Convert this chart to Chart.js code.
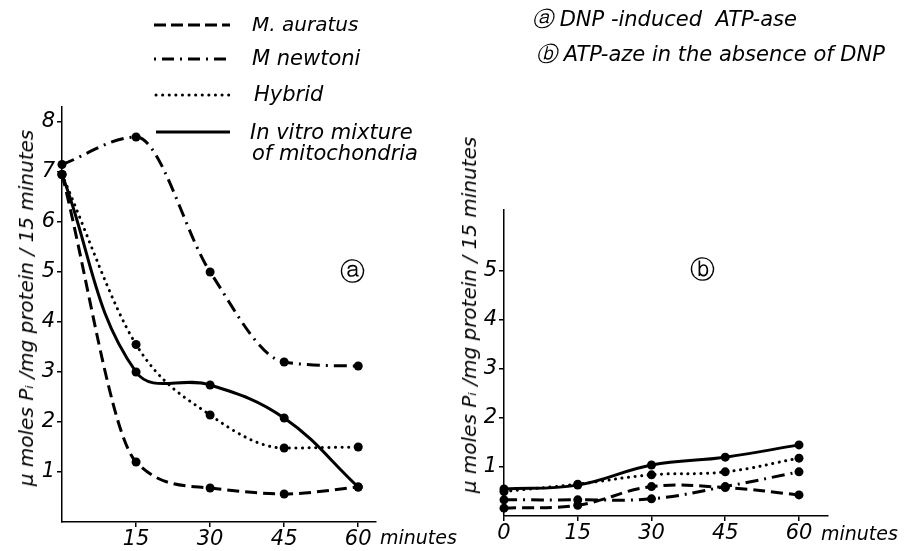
<!DOCTYPE html>
<html>
<head>
<meta charset="utf-8">
<script src="https://cdn.jsdelivr.net/npm/chart.js@4.4.0/dist/chart.umd.min.js"></script>
<style>
  body { margin: 0; background: #fff; }
  #wrap { position: relative; width: 909px; height: 551px; overflow: hidden; font-family: "DejaVu Sans", sans-serif; font-style: italic; color: #000; }
  canvas { position: absolute; left: 0; top: 0; }
  .txt { position: absolute; white-space: nowrap; font-size: 21px; line-height: 1; }
  .swatch { position: absolute; }
  .ytitle { position: absolute; white-space: nowrap; font-size: 20px; line-height: 1; transform: translate(-50%, -50%) rotate(-90deg); }
</style>
</head>
<body>
<div id="wrap">
  <canvas id="chartA" width="909" height="551"></canvas>
  <canvas id="chartB" width="909" height="551"></canvas>

  <!-- series legend -->
  <svg class="swatch" style="left:150px;top:0" width="90" height="140">
    <line x1="4" y1="25" x2="80" y2="25" stroke="#000" stroke-width="3" stroke-dasharray="12 5"/>
    <line x1="4" y1="59" x2="80" y2="59" stroke="#000" stroke-width="3" stroke-dasharray="2 6 12 6"/>
    <line x1="6" y1="95" x2="80" y2="95" stroke="#000" stroke-width="3" stroke-dasharray="0.1 6.5" stroke-linecap="round"/>
    <line x1="6" y1="132" x2="80" y2="132" stroke="#000" stroke-width="3"/>
  </svg>
  <div class="txt" style="left:252px;top:14px;font-size:20px">M. auratus</div>
  <div class="txt" style="left:252px;top:48px">M newtoni</div>
  <div class="txt" style="left:254px;top:84px">Hybrid</div>
  <div class="txt" style="left:250px;top:122px">In vitro mixture</div>
  <div class="txt" style="left:252px;top:143px">of mitochondria</div>

  <!-- panel legend -->
  <div class="txt" style="left:532px;top:9px">ⓐ DNP -induced&nbsp; ATP-ase</div>
  <div class="txt" style="left:536px;top:44px">ⓑ ATP-aze in the absence of DNP</div>

  <div class="txt" style="left:340px;top:259px;font-size:25px;font-style:normal">ⓐ</div>
  <div class="txt" style="left:690px;top:257px;font-size:25px;font-style:normal">ⓑ</div>

  <div class="txt" style="left:380px;top:528px;font-size:19px">minutes</div>
  <div class="txt" style="left:821px;top:524px;font-size:19px">minutes</div>

  <div class="ytitle" id="titleA" style="left:26px;top:308px"></div>
  <div class="ytitle" id="titleB" style="left:469px;top:315px"></div>
</div>

<script>
// time points (minutes)
const minutes = [0, 15, 30, 45, 60];

// panel a: DNP-induced ATP-ase
const auratusA = [6.95, 1.2, 0.68, 0.56, 0.7];
const newtoniA = [7.15, 7.7, 5.0, 3.2, 3.12];
const hybridA = [6.95, 3.55, 2.14, 1.48, 1.5];
const mixtureA = [6.95, 3.0, 2.74, 2.08, 0.7];

// panel b: ATP-ase in the absence of DNP
const auratusB = [0.16, 0.22, 0.6, 0.58, 0.43];
const newtoniB = [0.33, 0.33, 0.35, 0.6, 0.9];
const hybridB = [0.5, 0.65, 0.84, 0.9, 1.18];
const mixtureB = [0.55, 0.63, 1.04, 1.2, 1.45];

const xTicksA = [15, 30, 45, 60];
const xTicksB = [0, 15, 30, 45, 60];
const yTicksA = [1, 2, 3, 4, 5, 6, 7, 8];
const yTicksB = [1, 2, 3, 4, 5];

const yTitle = "µ moles Pᵢ /mg protein / 15 minutes";
const font = "'DejaVu Sans', sans-serif";

document.getElementById("titleA").textContent = yTitle;
document.getElementById("titleB").textContent = yTitle;

const pts = arr => arr.map((v, i) => ({ x: minutes[i], y: v }));

function series(a, d, n, h, smooth) {
  const base = {
    borderColor: "#000",
    backgroundColor: "#000",
    borderWidth: 3,
    pointRadius: 4.5,
    pointBorderWidth: 0,
    tension: 0.4,
    cubicInterpolationMode: smooth,
    clip: false
  };
  return [
    { ...base, label: "M. auratus", data: pts(a), borderDash: [12, 6] },
    { ...base, label: "M newtoni", data: pts(n), borderDash: [13, 6, 2, 6] },
    { ...base, label: "Hybrid", data: pts(h), borderDash: [0.1, 6.5], borderCapStyle: "round" },
    { ...base, label: "In vitro mixture of mitochondria", data: pts(d), cubicInterpolationMode: "default" }
  ];
}

function makeChart(id, sets, o) {
  new Chart(document.getElementById(id), {
    type: "line",
    data: { datasets: sets },
    options: {
      responsive: false,
      animation: false,
      layout: { padding: o.pad },
      plugins: { legend: { display: false }, tooltip: { enabled: false } },
      scales: {
        x: {
          type: "linear",
          min: 0,
          max: o.xMax,
          afterBuildTicks: s => { s.ticks = o.xTicks.map(v => ({ value: v })); },
          afterFit: s => { s.height = o.xH; },
          border: { color: "#000", width: 1.5 },
          grid: { drawOnChartArea: false, color: "#000", lineWidth: 1.5, tickLength: 5 },
          ticks: { color: "#000", padding: 0, maxRotation: 0, font: { family: font, style: "italic", size: 21 } }
        },
        y: {
          min: 0,
          max: o.yMax,
          afterBuildTicks: s => { s.ticks = o.yTicks.map(v => ({ value: v })); },
          afterFit: s => { s.width = o.yW; },
          border: { color: "#000", width: 1.5 },
          grid: { drawOnChartArea: false, color: "#000", lineWidth: 1.5, tickLength: 5 },
          ticks: { color: "#000", padding: 2, font: { family: font, style: "italic", size: 21 } }
        }
      }
    }
  });
}

makeChart("chartA", series(auratusA, mixtureA, newtoniA, hybridA, "monotone"), {
  pad: { left: 0, top: 107, right: 533, bottom: 0 },
  xMax: 63.6, yMax: 8.3, xH: 29, yW: 62,
  xTicks: xTicksA, yTicks: yTicksA
});

makeChart("chartB", series(auratusB, mixtureB, newtoniB, hybridB, "default"), {
  pad: { left: 460, top: 210, right: 81, bottom: 0 },
  xMax: 65.9, yMax: 6.24, xH: 35, yW: 44,
  xTicks: xTicksB, yTicks: yTicksB
});
</script>
</body>
</html>
